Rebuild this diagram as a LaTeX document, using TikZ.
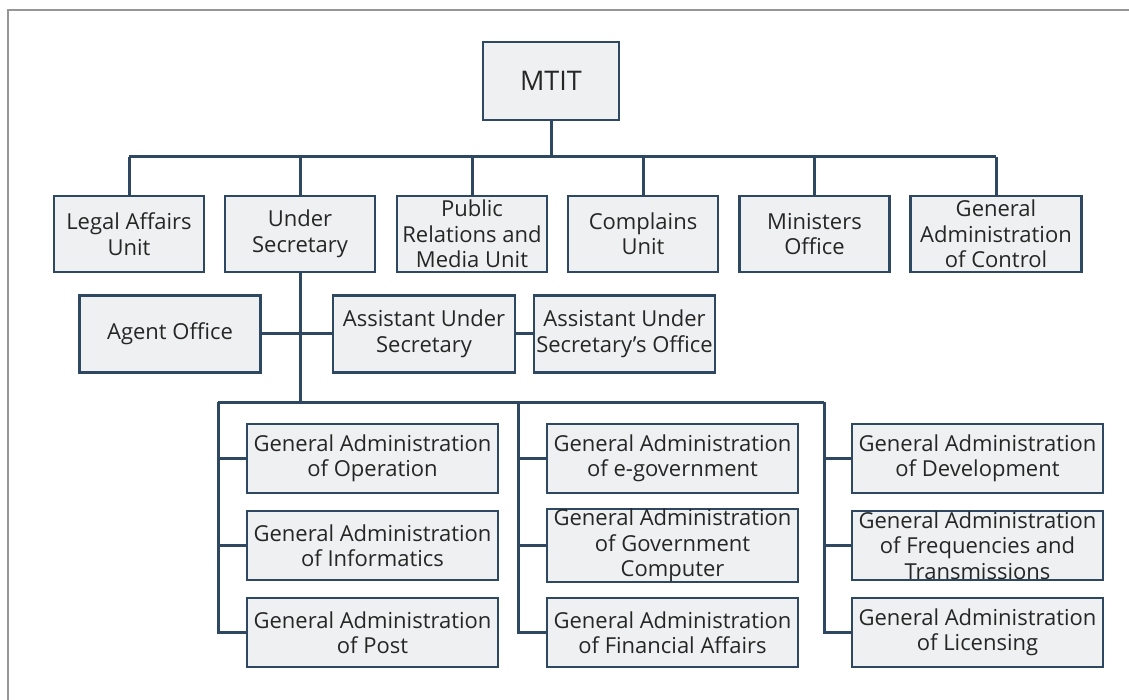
\documentclass[tikz,border=0pt]{standalone}
\usepackage{fontspec}
\setmainfont{Open Sans}
\usetikzlibrary{positioning}

\definecolor{boxline}{RGB}{46,72,98}
\definecolor{boxfill}{RGB}{239,240,241}
\definecolor{frame}{RGB}{150,150,150}

\tikzset{
  unit/.style={draw=boxline,fill=boxfill,line width=2.8pt,inner sep=0pt,
    align=center,minimum height=76pt,minimum width=150pt,text=black!85,
    font=\fontsize{22}{25.5}\selectfont},
  gadmin/.style={unit,minimum width=251pt,minimum height=69pt},
  conn/.style={draw=boxline,line width=3pt}
}

\begin{document}
\begin{tikzpicture}[x=1pt,y=-1pt]
  \useasboundingbox (0,0) rectangle (1129,700);
  \draw[frame,line width=1.5pt] (1129,10) -- (8,10) -- (8,700);

  % top of the chart
  \node[unit,minimum width=136pt,minimum height=78pt,
    font=\fontsize{27}{30}\selectfont] (mtit) at (551,81) {MTIT};
  \node[unit] (legal) at (129,234) {Legal Affairs\\Unit};
  \node[unit] (under) at (300,234) {Under\\Secretary};
  \node[unit] (pr) at (472,234) {Public\\Relations and\\Media Unit};
  \node[unit] (compl) at (643,234) {Complains\\Unit};
  \node[unit] (minis) at (814.5,234) {Ministers\\Office};
  \node[unit,minimum width=171pt] (ctrl) at (996,234) {General\\Administration\\of Control};

  % offices under the under secretary
  \node[unit,minimum width=181pt,minimum height=77pt] (agent) at (170,334) {Agent Office};
  \node[unit,minimum width=182pt,minimum height=77pt] (asst) at (424,334) {Assistant Under\\Secretary};
  \node[unit,minimum width=181pt,minimum height=77pt] (asstoff) at (624.5,334) {Assistant Under\\Secretary’s Office};

  % general administrations
  \node[gadmin] (oper) at (372.5,458.5) {General Administration\\of Operation};
  \node[gadmin] (inform) at (372.5,545.5) {General Administration\\of Informatics};
  \node[gadmin] (post) at (372.5,632.5) {General Administration\\of Post};
  \node[gadmin] (egov) at (672.5,458.5) {General Administration\\of e-government};
  \node[gadmin] (govcomp) at (672.5,545.5) {General Administration\\of Government\\Computer};
  \node[gadmin] (fin) at (672.5,632.5) {General Administration\\of Financial Affairs};
  \node[gadmin] (devel) at (977.5,458.5) {General Administration\\of Development};
  \node[gadmin] (freq) at (977.5,545.5) {General Administration\\of Frequencies and\\Transmissions};
  \node[gadmin] (lic) at (977.5,632.5) {General Administration\\of Licensing};

  \coordinate (topbus) at (551,157);
  \coordinate (lowbus) at (300,402);
  \coordinate (s1) at (218,402);
  \coordinate (s2) at (518,402);
  \coordinate (s3) at (824,402);

  % connectors
  \draw[conn] (mtit.south) -- (topbus);
  \draw[conn] (legal.north |- topbus) -- (ctrl.north |- topbus);
  \foreach \n in {legal,under,pr,compl,minis,ctrl}
    \draw[conn] (\n.north) -- (\n.north |- topbus);
  \draw[conn] (under.south) -- (lowbus);
  \draw[conn] (agent.east) -- (asst.west);
  \draw[conn] (asst.east) -- (asstoff.west);
  \draw[conn] (s1) -- (s3);
  \draw[conn] (s1) |- (post.west);
  \draw[conn] (s2) |- (fin.west);
  \draw[conn] (s3) |- (lic.west);
  \foreach \n/\s in {oper/s1,inform/s1,egov/s2,govcomp/s2,devel/s3,freq/s3}
    \draw[conn] (\s |- \n.west) -- (\n.west);
\end{tikzpicture}
\end{document}
